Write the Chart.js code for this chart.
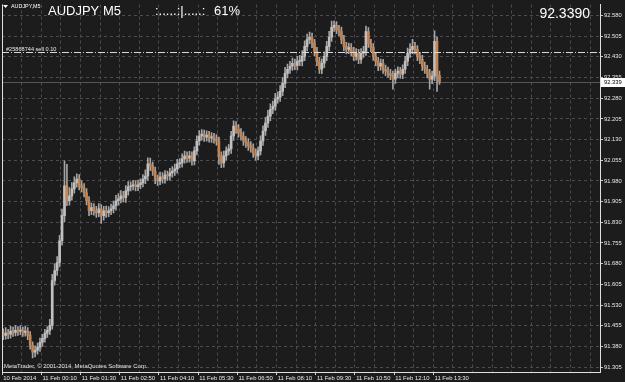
<!DOCTYPE html>
<html>
<head>
<meta charset="utf-8">
<script src="https://cdn.jsdelivr.net/npm/chart.js@4.4.1/dist/chart.umd.min.js"></script>
<style>
  html, body { margin: 0; padding: 0; background: #1c1c1c; overflow: hidden; }
</style>
</head>
<body>
<canvas id="chart" width="625" height="382"></canvas>
<script>
// AUDJPY M5 bars (one entry per 5 minute bar, from 10 Feb 22:50)
const opens = [
  91.428,91.420,91.428,91.424,91.435,91.431,91.438,91.435,91.438,91.431,
  91.435,91.420,91.384,91.359,91.366,91.377,91.395,91.409,91.428,91.438,
  91.456,91.619,91.655,91.684,91.763,91.854,91.962,91.908,91.926,91.951,
  91.973,91.987,91.962,91.955,91.937,91.908,91.872,91.883,91.872,91.865,
  91.879,91.854,91.872,91.865,91.872,91.879,91.890,91.908,91.915,91.926,
  91.919,91.944,91.959,91.962,91.966,91.959,91.966,91.973,91.987,91.998,
  92.042,92.034,92.016,91.987,91.980,91.995,91.987,92.002,91.998,92.009,
  92.016,92.024,92.042,92.045,92.060,92.071,92.063,92.071,92.053,92.089,
  92.125,92.143,92.150,92.139,92.146,92.136,92.139,92.132,92.125,92.071,
  92.045,92.071,92.089,92.096,92.143,92.179,92.168,92.154,92.143,92.125,
  92.118,92.107,92.100,92.081,92.071,92.089,92.125,92.161,92.190,92.215,
  92.240,92.251,92.277,92.284,92.305,92.334,92.370,92.385,92.396,92.407,
  92.399,92.414,92.414,92.432,92.468,92.493,92.501,92.479,92.450,92.414,
  92.385,92.407,92.432,92.468,92.501,92.537,92.544,92.529,92.522,92.493,
  92.468,92.457,92.464,92.450,92.432,92.443,92.421,92.443,92.450,92.522,
  92.479,92.464,92.432,92.414,92.396,92.407,92.385,92.378,92.370,92.363,
  92.349,92.370,92.378,92.367,92.385,92.414,92.443,92.457,92.468,92.457,
  92.432,92.421,92.396,92.385,92.370,92.349,92.360,92.486,92.363
];
const highs = [
  91.444,91.448,91.442,91.453,91.450,91.456,91.452,91.455,91.450,91.454,
  91.448,91.434,91.396,91.382,91.392,91.410,91.424,91.442,91.452,91.478,
  91.641,91.680,91.706,91.783,91.878,92.053,92.040,91.956,91.974,91.995,
  92.006,92.003,91.980,91.970,91.952,91.923,91.900,91.898,91.888,91.898,
  91.894,91.888,91.889,91.887,91.896,91.907,91.928,91.934,91.945,91.942,
  91.963,91.978,91.977,91.982,91.980,91.983,91.988,92.003,92.020,92.064,
  92.063,92.048,92.030,92.001,92.012,92.010,92.018,92.016,92.026,92.032,
  92.041,92.058,92.061,92.078,92.088,92.086,92.087,92.086,92.104,92.144,
  92.163,92.166,92.164,92.162,92.160,92.155,92.153,92.148,92.139,92.086,
  92.088,92.104,92.112,92.160,92.198,92.195,92.184,92.170,92.158,92.141,
  92.134,92.123,92.115,92.096,92.104,92.144,92.180,92.211,92.236,92.260,
  92.270,92.298,92.303,92.326,92.356,92.392,92.404,92.414,92.426,92.422,
  92.432,92.436,92.453,92.488,92.513,92.520,92.516,92.494,92.465,92.428,
  92.423,92.448,92.486,92.523,92.560,92.561,92.558,92.544,92.538,92.508,
  92.483,92.480,92.478,92.465,92.460,92.457,92.460,92.468,92.542,92.536,
  92.494,92.478,92.446,92.428,92.422,92.421,92.400,92.393,92.385,92.378,
  92.386,92.394,92.392,92.401,92.432,92.462,92.478,92.494,92.483,92.471,
  92.446,92.436,92.411,92.399,92.385,92.378,92.524,92.503,92.378
];
const lows = [
  91.404,91.406,91.408,91.410,91.416,91.418,91.420,91.422,91.416,91.417,
  91.404,91.370,91.338,91.342,91.352,91.362,91.380,91.395,91.412,91.422,
  91.442,91.602,91.637,91.668,91.747,91.832,91.890,91.892,91.910,91.936,
  91.957,91.947,91.940,91.922,91.893,91.854,91.858,91.856,91.848,91.850,
  91.826,91.838,91.848,91.850,91.858,91.864,91.874,91.892,91.900,91.904,
  91.902,91.928,91.944,91.947,91.944,91.945,91.952,91.958,91.970,91.982,
  92.018,92.000,91.970,91.964,91.966,91.972,91.972,91.982,91.983,91.994,
  92.000,92.008,92.027,92.030,92.044,92.047,92.048,92.037,92.038,92.074,
  92.110,92.128,92.123,92.124,92.121,92.120,92.117,92.110,92.040,92.028,
  92.030,92.055,92.074,92.080,92.127,92.152,92.139,92.128,92.109,92.102,
  92.091,92.084,92.065,92.055,92.056,92.074,92.109,92.145,92.174,92.199,
  92.224,92.236,92.262,92.268,92.289,92.318,92.354,92.370,92.381,92.384,
  92.383,92.398,92.397,92.416,92.452,92.478,92.463,92.434,92.398,92.370,
  92.369,92.391,92.416,92.452,92.486,92.522,92.514,92.506,92.478,92.452,
  92.441,92.442,92.434,92.417,92.418,92.405,92.406,92.428,92.435,92.464,
  92.449,92.417,92.398,92.380,92.382,92.370,92.362,92.355,92.347,92.313,
  92.334,92.354,92.352,92.351,92.370,92.398,92.428,92.442,92.441,92.416,
  92.405,92.380,92.370,92.354,92.313,92.333,92.344,92.305,92.330
];
const closes = [
  91.420,91.428,91.424,91.435,91.431,91.438,91.435,91.438,91.431,91.435,
  91.420,91.384,91.359,91.366,91.377,91.395,91.409,91.428,91.438,91.456,
  91.619,91.655,91.684,91.763,91.854,91.962,91.908,91.926,91.951,91.973,
  91.987,91.962,91.955,91.937,91.908,91.872,91.883,91.872,91.865,91.879,
  91.854,91.872,91.865,91.872,91.879,91.890,91.908,91.915,91.926,91.919,
  91.944,91.959,91.962,91.966,91.959,91.966,91.973,91.987,91.998,92.042,
  92.034,92.016,91.987,91.980,91.995,91.987,92.002,91.998,92.009,92.016,
  92.024,92.042,92.045,92.060,92.071,92.063,92.071,92.053,92.089,92.125,
  92.143,92.150,92.139,92.146,92.136,92.139,92.132,92.125,92.071,92.045,
  92.071,92.089,92.096,92.143,92.179,92.168,92.154,92.143,92.125,92.118,
  92.107,92.100,92.081,92.071,92.089,92.125,92.161,92.190,92.215,92.240,
  92.251,92.277,92.284,92.305,92.334,92.370,92.385,92.396,92.407,92.399,
  92.414,92.414,92.432,92.468,92.493,92.501,92.479,92.450,92.414,92.385,
  92.407,92.432,92.468,92.501,92.537,92.544,92.529,92.522,92.493,92.468,
  92.457,92.464,92.450,92.432,92.443,92.421,92.443,92.450,92.522,92.479,
  92.464,92.432,92.414,92.396,92.407,92.385,92.378,92.370,92.363,92.349,
  92.370,92.378,92.367,92.385,92.414,92.443,92.457,92.468,92.457,92.432,
  92.421,92.396,92.385,92.370,92.349,92.360,92.486,92.363,92.339
];

// number of bar slots visible across the window (right part is still empty)
const slotCount = 244;
const timeTickIndex = [0, 16, 32, 48, 64, 80, 96, 112, 128, 144, 160, 176];
const timeTickLabels = ['10 Feb 2014', '11 Feb 00:10', '11 Feb 01:30', '11 Feb 02:50',
  '11 Feb 04:10', '11 Feb 05:30', '11 Feb 06:50', '11 Feb 08:10', '11 Feb 09:30',
  '11 Feb 10:50', '11 Feb 12:10', '11 Feb 13:30'];
const priceTicks = [91.305, 91.380, 91.455, 91.530, 91.605, 91.680, 91.755, 91.830, 91.905,
  91.980, 92.055, 92.130, 92.205, 92.280, 92.355, 92.430, 92.505, 92.580];
const orderPrice = 92.446;
const bidPrice = 92.339;

const FONT = "'Liberation Sans', Arial, sans-serif";
const gridColor = '#4a4a58';

const slots = Array.from({ length: slotCount }, (_, i) => i);

// decor drawn around the candles: background, frame, order line, bid line, texts
const terminalDecor = {
  id: 'terminalDecor',
  beforeDraw(chart) {
    const c = chart.ctx;
    c.save();
    c.fillStyle = '#1c1c1c';
    c.fillRect(0, 0, chart.width, chart.height);
    c.restore();
  },
  beforeDatasetsDraw(chart) {
    const c = chart.ctx, a = chart.chartArea, y = chart.scales.y;
    const by = Math.round(y.getPixelForValue(bidPrice)) + 0.5;
    c.save();
    c.strokeStyle = '#55555f';
    c.lineWidth = 1;
    c.beginPath();
    c.moveTo(a.left, by);
    c.lineTo(a.right, by);
    c.stroke();
    c.restore();
  },
  afterDatasetsDraw(chart) {
    const c = chart.ctx, a = chart.chartArea, y = chart.scales.y;
    const oy = Math.round(y.getPixelForValue(orderPrice)) + 0.5;
    c.save();
    c.strokeStyle = '#d8d8d8';
    c.lineWidth = 1;
    c.setLineDash([7, 2, 1, 2]);
    c.beginPath();
    c.moveTo(a.left, oy);
    c.lineTo(a.right, oy);
    c.stroke();
    c.setLineDash([]);
    c.fillStyle = '#e8e8e8';
    c.font = '5.6px ' + FONT;
    c.textBaseline = 'alphabetic';
    c.fillText('#25868744 sell 0.10', a.left + 4, oy - 2);
    c.restore();
  },
  afterDraw(chart) {
    const c = chart.ctx, a = chart.chartArea, y = chart.scales.y;
    c.save();
    // left frame line
    c.strokeStyle = '#e0e0e0';
    c.lineWidth = 1;
    c.beginPath();
    c.moveTo(a.left + 0.5, a.top);
    c.lineTo(a.left + 0.5, a.bottom);
    c.stroke();

    // header
    c.fillStyle = '#ffffff';
    c.beginPath();
    c.moveTo(3, 5); c.lineTo(8, 5); c.lineTo(5.5, 8); c.closePath();
    c.fill();
    c.font = '5.4px ' + FONT;
    c.textBaseline = 'alphabetic';
    c.fillText('AUDJPY,M5', 11, 8);
    c.font = '13px ' + FONT;
    c.fillText('AUDJPY M5', 48, 15);
    c.fillText(':.....:|.....:', 155, 15);
    c.fillText('61%', 214, 15);
    c.font = '14px ' + FONT;
    c.textAlign = 'right';
    c.fillText('92.3390', 590, 18);

    // current price box on the axis
    const by = Math.round(y.getPixelForValue(bidPrice));
    c.fillStyle = '#ffffff';
    c.fillRect(a.right + 1, by - 4, 24, 9);
    c.fillStyle = '#000000';
    c.font = '5.8px ' + FONT;
    c.textAlign = 'left';
    c.textBaseline = 'middle';
    c.fillText(bidPrice.toFixed(3), a.right + 4, by + 0.5);

    // copyright
    c.fillStyle = '#e0e0e0';
    c.font = '5.9px ' + FONT;
    c.textBaseline = 'alphabetic';
    c.fillText('MetaTrader, \u00a9 2001-2014, MetaQuotes Software Corp.', a.left + 2, a.bottom - 4);
    c.restore();
  }
};

new Chart(document.getElementById('chart'), {
  type: 'bar',
  data: {
    labels: slots,
    datasets: [
      {
        // bodies
        data: opens.map((o, i) => [o, closes[i]]),
        backgroundColor: opens.map((o, i) => closes[i] >= o ? '#c0c0c0' : '#c8844c'),
        barThickness: 2,
        minBarLength: 1,
        borderWidth: 0,
        grouped: false
      },
      {
        // wicks
        data: lows.map((l, i) => [l, highs[i]]),
        backgroundColor: '#a4a4a4',
        barThickness: 1,
        borderWidth: 0,
        grouped: false
      }
    ]
  },
  options: {
    responsive: false,
    animation: false,
    events: [],
    layout: { padding: { left: 2, top: 3, right: 0, bottom: 0 } },
    plugins: { legend: { display: false }, tooltip: { enabled: false } },
    scales: {
      x: {
        type: 'category',
        offset: true,
        afterFit: s => { s.height = 10; },
        grid: {
          offset: true,
          color: ctx => ctx.index % 8 === 0 ? gridColor : 'transparent',
          lineWidth: 1,
          tickLength: 3,
          tickColor: ctx => (ctx.index % 16 === 0 && ctx.index <= 176) ? '#d0d0d0' : 'transparent'
        },
        border: { display: true, color: '#e0e0e0', width: 1, dash: [3, 3] },
        ticks: {
          autoSkip: false,
          maxRotation: 0,
          minRotation: 0,
          align: 'start',
          padding: 0,
          color: '#e8e8e8',
          font: { family: FONT, size: 5.9 },
          callback: (v, i) => {
            const k = timeTickIndex.indexOf(i);
            return k >= 0 ? timeTickLabels[k] : '';
          }
        }
      },
      y: {
        type: 'linear',
        position: 'right',
        min: 91.287,
        max: 92.620,
        afterFit: s => { s.width = 25; },
        afterBuildTicks: s => { s.ticks = priceTicks.map(v => ({ value: v })); },
        grid: {
          color: gridColor,
          lineWidth: 1,
          tickLength: 3,
          tickColor: '#c8c8c8'
        },
        border: { display: true, color: '#e0e0e0', width: 1, dash: [3, 3] },
        ticks: {
          autoSkip: false,
          padding: 1,
          color: '#e8e8e8',
          font: { family: FONT, size: 5.8 },
          callback: v => Number(v).toFixed(3)
        }
      }
    }
  },
  plugins: [terminalDecor]
});
</script>
</body>
</html>
